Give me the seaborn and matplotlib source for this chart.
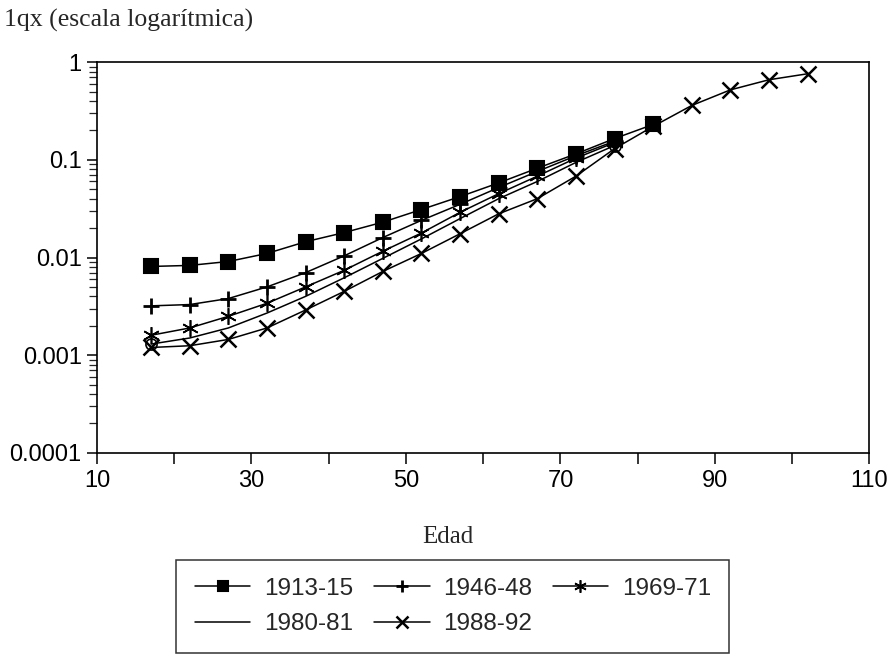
import numpy as np
import pandas as pd
import seaborn as sns
import matplotlib
matplotlib.use("Agg")
import matplotlib.pyplot as plt
from matplotlib.ticker import FixedLocator, FuncFormatter, LogLocator, NullFormatter

# edades (punto medio de cada grupo) y 1qx por periodo
edad = [17, 22, 27, 32, 37, 42, 47, 52, 57, 62, 67, 72, 77, 82, 87, 92, 97, 102]

q_1913 = [0.0081, 0.0083, 0.0091, 0.011, 0.0145, 0.018, 0.023, 0.031, 0.042,
          0.058, 0.082, 0.115, 0.165, 0.23]
q_1946 = [0.0032, 0.0033, 0.0038, 0.0050, 0.0070, 0.0104, 0.016, 0.024, 0.035,
          0.052, 0.076, 0.11, 0.155]
q_1969 = [0.0016, 0.0019, 0.0025, 0.0034, 0.0050, 0.0074, 0.0116, 0.0178, 0.029,
          0.045, 0.068, 0.104, 0.15]
q_1980 = [0.0013, 0.0015, 0.0019, 0.0027, 0.0040, 0.0062, 0.0098, 0.0155, 0.025,
          0.040, 0.060, 0.094, 0.14]
q_1988 = [0.0012, 0.00125, 0.00145, 0.0019, 0.0029, 0.0045, 0.0072, 0.011, 0.0175,
          0.028, 0.040, 0.068, 0.13, 0.22, 0.36, 0.52, 0.66, 0.76]

periodos = ["1913-15", "1946-48", "1969-71", "1980-81", "1988-92"]
series = [q_1913, q_1946, q_1969, q_1980, q_1988]
marcas = ["s", "+", (6, 2, 0), None, "x"]
tam = [10, 12, 12, 0, 12]
grosor = [1.5, 2.0, 1.2, 1.0, 1.8]

sns.set_style("ticks")
plt.rcParams["font.family"] = ["Liberation Sans", "DejaVu Sans"]
plt.rcParams["axes.edgecolor"] = "black"
plt.rcParams["axes.linewidth"] = 1.2

fig = plt.figure(figsize=(8.93, 6.68), dpi=100)
ax = fig.add_axes([0.1086, 0.322, 0.865, 0.585])

handles = []
for nombre, q, m, ms, mw in zip(periodos, series, marcas, tam, grosor):
    df = pd.DataFrame({"Edad": edad[:len(q)], "qx": q})
    sns.lineplot(data=df, x="Edad", y="qx", ax=ax, color="black", lw=1.1,
                 marker=m, markersize=ms, mew=mw, mfc="black", mec="black",
                 label=nombre)
    handles.append(ax.lines[-1])

# pequeños círculos al inicio y fin de la serie 1980-81
ax.plot([edad[0], edad[len(q_1980) - 1]], [q_1980[0], q_1980[-1]], "o",
        mfc="none", mec="black", ms=8, mew=1.2)

ax.set_yscale("log")
ax.set_xlim(10, 110)
ax.set_ylim(0.0001, 1)
ax.xaxis.set_major_locator(FixedLocator([10, 30, 50, 70, 90, 110]))
ax.xaxis.set_minor_locator(FixedLocator([20, 40, 60, 80, 100]))
ax.yaxis.set_major_locator(LogLocator(base=10, numticks=10))
ax.yaxis.set_minor_locator(LogLocator(base=10, subs=np.arange(2, 10), numticks=10))
ax.yaxis.set_major_formatter(FuncFormatter(lambda v, p: ("%g" % v) if v >= 0.001 else "0.0001"))
ax.yaxis.set_minor_formatter(NullFormatter())
ax.tick_params(axis="x", which="both", direction="out", length=8, width=1.1,
               labelsize=17, pad=4, colors="black")
ax.tick_params(axis="y", which="major", direction="out", length=7, width=1.1,
               labelsize=17, pad=4, colors="black")
ax.tick_params(axis="y", which="minor", direction="out", length=6, width=0.9)
ax.set_xlabel("")
ax.set_ylabel("")
ax.get_legend().remove()
for s in ax.spines.values():
    s.set_visible(True)

fig.text(0.004, 1 - 20 / 668, "1qx (escala logarítmica)", family="Liberation Serif",
         fontsize=18.5, va="center", ha="left")
fig.text(448 / 893, 1 - 537 / 668, "Edad", family="Liberation Serif",
         fontsize=18, va="center", ha="center")

orden = [0, 3, 1, 4, 2]
leg = fig.legend([handles[i] for i in orden], [periodos[i] for i in orden],
                 ncol=3, loc="center", bbox_to_anchor=(0.507, 0.092),
                 fontsize=17.5, frameon=True, fancybox=False, edgecolor="black",
                 handlelength=2.3, handletextpad=0.55, columnspacing=0.85,
                 labelspacing=0.55, borderpad=0.75, borderaxespad=0,
                 markerscale=0.75)
leg.get_frame().set_linewidth(1.1)

fig.savefig("out.png", dpi=100, facecolor="white")
